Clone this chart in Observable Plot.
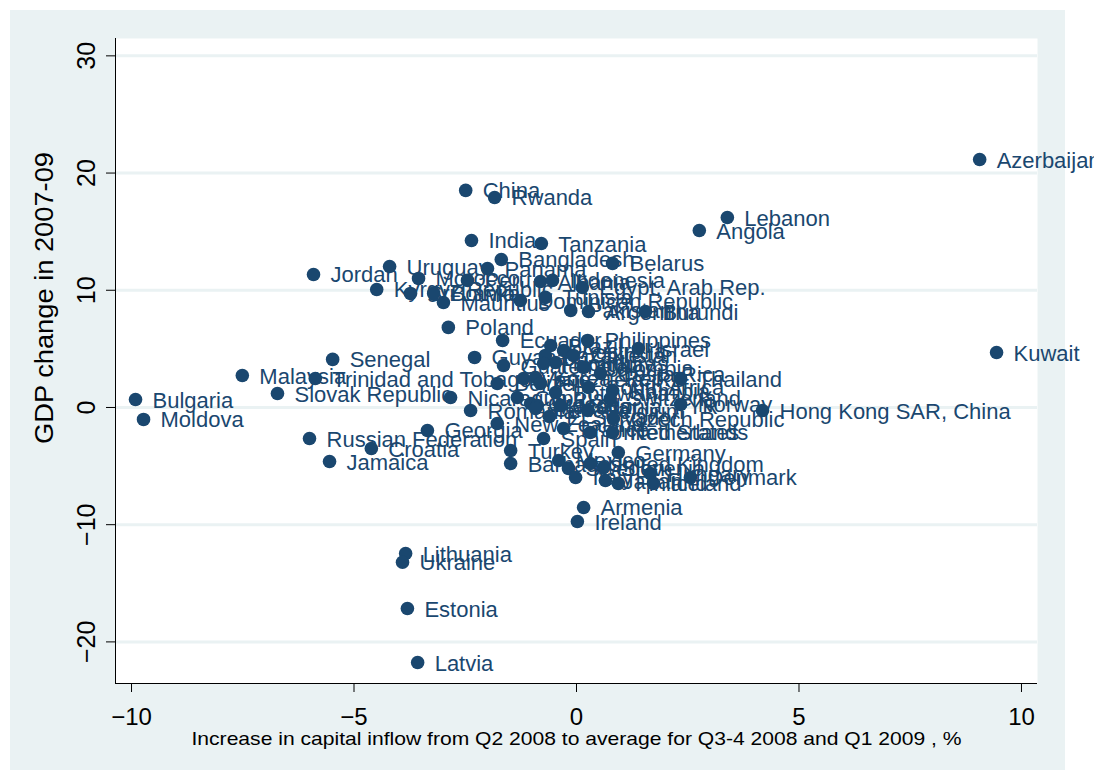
<!DOCTYPE html>
<html>
<head>
<meta charset="utf-8">
<script src="https://cdn.jsdelivr.net/npm/d3@7"></script>
<script src="https://cdn.jsdelivr.net/npm/@observablehq/plot@0.6"></script>
<style>
  html, body { margin: 0; padding: 0; background: white; }
  #chart { width: 1094px; height: 773px; }
</style>
</head>
<body>
<div id="chart"></div>
<script>
const countries = [
  "Bulgaria","Moldova","Malaysia","Slovak Republic","Trinidad and Tobago","Senegal","Jordan",
  "Russian Federation","Croatia","Jamaica","Georgia","Lithuania","Ukraine","Estonia","Latvia",
  "Armenia","Ireland","Azerbaijan","Kuwait","Hong Kong SAR, China","Lebanon","Angola","Thailand",
  "Norway","Denmark",
  "China","Rwanda","India","Tanzania","Bangladesh","Belarus","Uruguay","Panama","Morocco","Peru",
  "Albania","Indonesia","Egypt, Arab Rep.","Kyrgyz Republic","Sri Lanka","Bolivia","Mauritius",
  "Dominican Republic","Tunisia","Pakistan","Argentina","Burundi","Poland",
  "Ecuador","Philippines","Israel","Brazil","Australia","Kazakhstan","Chile","Guyana","Guatemala",
  "Honduras","Paraguay","Colombia","Costa Rica","Venezuela, RB","Korea, Rep.","Fiji","Belize",
  "Botswana","South Africa","Namibia","Nicaragua","Cyprus","Greece","Macedonia, FYR","Malta",
  "Switzerland","Romania","Canada","El Salvador","Belgium","Czech Republic","New Zealand","France",
  "Spain","United States","Netherlands","Turkey","Barbados","Germany","Mexico","Sweden","Italy",
  "United Kingdom","Slovenia","Japan","Finland","Hungary","Iceland"
];
const inflowChange = [
  -9.91,-9.73,-7.51,-6.72,-5.87,-5.48,-5.91,
  -6.00,-4.61,-5.55,-3.35,-3.84,-3.91,-3.80,-3.57,
  0.16,0.02,9.06,9.44,4.18,3.39,2.76,2.34,
  2.34,2.56,
  -2.49,-1.84,-2.36,-0.79,-1.69,0.81,-4.20,-2.00,-3.55,-2.45,
  -0.81,-0.54,0.13,-4.49,-3.73,-3.21,-2.99,
  -1.26,-0.70,-0.13,0.27,1.55,-2.88,
  -1.66,0.25,1.39,-0.58,-0.29,-0.70,-0.07,-2.29,-1.64,
  -0.47,-0.74,0.16,0.54,-1.19,-0.92,-0.81,-1.78,
  -0.47,0.27,0.81,-2.83,-1.33,-1.03,-0.88,-0.36,
  0.76,-2.38,-0.92,-0.61,0.25,0.83,-1.78,-0.29,
  -0.74,0.31,0.81,-1.48,-1.48,0.94,-0.40,-0.18,-0.02,
  0.31,0.61,0.65,0.94,1.66,1.73
];
const gdpChange = [
  0.68,-1.02,2.73,1.19,2.47,4.10,11.35,
  -2.65,-3.50,-4.61,-1.96,-12.46,-13.20,-17.15,-21.76,
  -8.53,-9.73,21.16,4.69,-0.26,16.21,15.10,2.47,
  0.26,-5.97,
  18.52,17.92,14.25,13.99,12.63,12.29,12.03,11.86,11.01,10.84,
  10.75,10.84,10.24,10.07,9.73,9.73,8.96,
  9.13,9.39,8.28,8.19,8.19,6.83,
  5.72,5.72,5.03,5.29,4.86,4.44,4.44,4.27,3.58,
  3.84,3.75,3.41,2.90,2.47,2.56,2.05,2.05,
  1.28,1.71,1.45,0.85,0.85,0.34,0.17,0.17,
  0.77,-0.26,-0.09,-0.77,-0.26,-0.94,-1.37,-1.79,
  -2.65,-2.13,-2.13,-3.67,-4.78,-3.84,-4.52,-5.20,-5.97,
  -4.78,-5.12,-6.23,-6.48,-5.63,-6.48
];
const xTicks = [-10, -5, 0, 5, 10];
const yTicks = [-20, -10, 0, 10, 20, 30];
const xTitle = "Increase in capital inflow from Q2 2008 to average for Q3-4 2008 and Q1 2009 , %";
const yTitle = "GDP change in 2007-09";

const data = countries.map((c, i) => ({country: c, x: inflowChange[i], y: gdpChange[i]}));

const X_MIN = -10.36, X_MAX = 10.36, Y_MIN = -23.55, Y_MAX = 31.48;
const NAVY = "#1a476f";
const BG = "#eaf2f3";

const chart = Plot.plot({
  width: 1094,
  height: 773,
  marginLeft: 115,
  marginRight: 57,
  marginTop: 38,
  marginBottom: 90,
  x: {domain: [X_MIN, X_MAX]},
  y: {domain: [Y_MIN, Y_MAX]},
  style: {fontFamily: "Liberation Sans, Arial, sans-serif", background: "white", overflow: "visible"},
  marks: [
    Plot.frame({fill: "white", stroke: "none"}),
    Plot.gridY(yTicks, {stroke: BG, strokeOpacity: 1, strokeWidth: 3}),
    Plot.ruleX([X_MIN], {stroke: "black", strokeWidth: 1}),
    Plot.ruleY([Y_MIN], {stroke: "black", strokeWidth: 1}),
    Plot.axisX(xTicks, {tickSize: 9, tickPadding: 15, fontSize: 24, label: null, stroke: "black", fill: "black"}),
    Plot.axisY(yTicks, {tickSize: 9, tickPadding: 12, tickRotate: -90, fontSize: 25, label: null, stroke: "black", fill: "black"}),
    Plot.dot(data, {x: "x", y: "y", r: 6.8, fill: NAVY, stroke: "none"}),
    Plot.text(data, {x: "x", y: "y", text: "country", dx: 17, dy: 1, textAnchor: "start", fill: NAVY, fontSize: 22}),
    Plot.text([xTitle], {frameAnchor: "bottom", dy: 61, lineAnchor: "bottom", textAnchor: "middle", fontSize: 18.5, fill: "black", className: "xtitle"}),
    Plot.text([yTitle], {frameAnchor: "left", dx: -63, dy: -63, rotate: -90, lineAnchor: "bottom", textAnchor: "middle", fontSize: 26, fill: "black", className: "ytitle"})
  ]
});

d3.select(chart).insert("rect", ":first-child")
  .attr("x", 10).attr("y", 10).attr("width", 1055).attr("height", 760).attr("fill", BG);
d3.select(chart).selectAll(".xtitle text").attr("textLength", 770).attr("lengthAdjust", "spacingAndGlyphs");
d3.select(chart).selectAll(".ytitle text").attr("textLength", 292).attr("lengthAdjust", "spacingAndGlyphs");

document.getElementById("chart").appendChild(chart);
</script>
</body>
</html>
